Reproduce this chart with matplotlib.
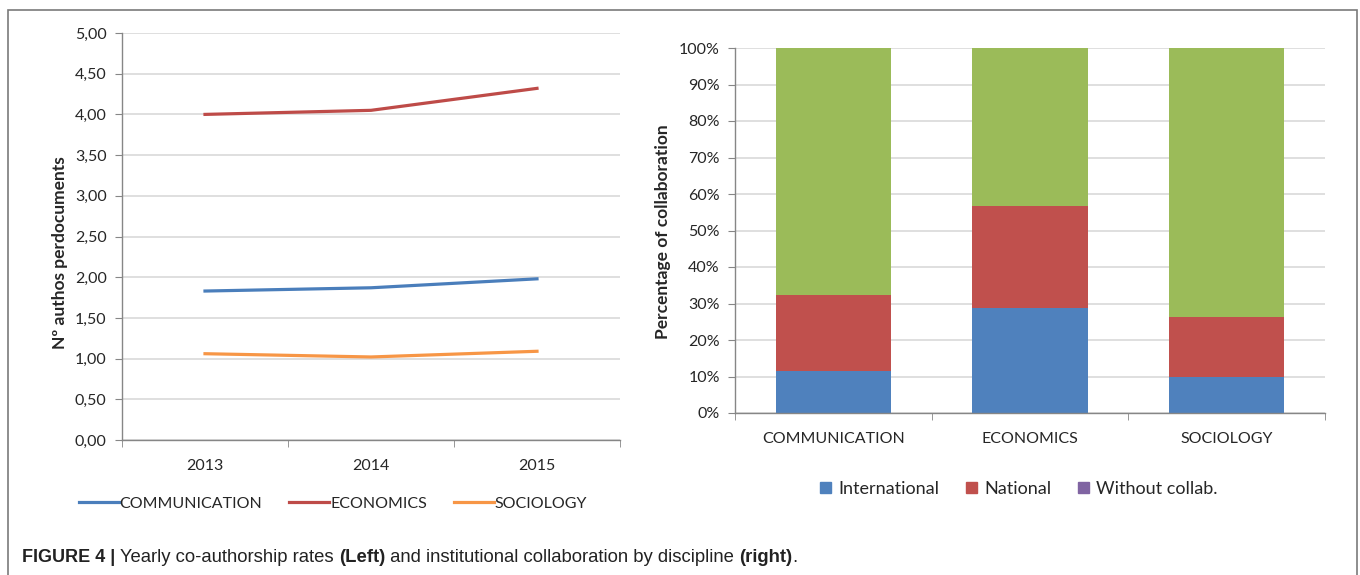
import matplotlib
matplotlib.use('Agg')
from matplotlib import pyplot as plt
from matplotlib.patches import Rectangle, Patch
import numpy as np

# 左: 年ごとの共著率
years = ['2013', '2014', '2015']
communication = [1.83, 1.87, 1.98]
economics = [4.00, 4.05, 4.32]
sociology = [1.06, 1.02, 1.09]
leftTicks = [0.0, 0.5, 1.0, 1.5, 2.0, 2.5, 3.0, 3.5, 4.0, 4.5, 5.0]

# 右: 分野ごとの機関協力
disciplines = ['COMMUNICATION', 'ECONOMICS', 'SOCIOLOGY']
international = [11.5, 28.8, 10.0]
national = [20.8, 27.9, 16.3]
without = [67.7, 43.3, 73.7]
rightTicks = [0, 10, 20, 30, 40, 50, 60, 70, 80, 90, 100]

BLUE = '#4a7ebb'
RED = '#be4b48'
ORANGE = '#f79646'
BAR_BLUE = '#4f81bd'
BAR_RED = '#c0504d'
BAR_GREEN = '#9bbb59'
PURPLE = '#8064a2'
GRID = '#d9d9d9'
AXIS = '#868686'
TXT = '#262626'
FONT = ['Lato', 'DejaVu Sans']

plt.rcParams['font.family'] = FONT

W, H = 1360, 575
fig = plt.figure(figsize=(W / 100, H / 100), dpi=100)

# 外枠
fig.patches.append(Rectangle((8 / W, -0.05), (1357 - 8) / W, 1.05 - 10 / H,
                             transform=fig.transFigure, fill=False,
                             edgecolor='#7a7a7a', linewidth=1.2))


def styleAxis(ax):
    for s in ['top', 'right']:
        ax.spines[s].set_visible(False)
    for s in ['left', 'bottom']:
        ax.spines[s].set_color(AXIS)
        ax.spines[s].set_linewidth(1.0)
    ax.grid(axis='y', color=GRID, linewidth=1.2)
    ax.set_axisbelow(True)
    ax.tick_params(axis='y', length=5, color=AXIS, labelsize=11.5, labelcolor=TXT, pad=6)
    ax.tick_params(axis='x', which='major', length=0, labelsize=11.5, labelcolor=TXT, pad=14)
    ax.tick_params(axis='x', which='minor', length=5, color=AXIS)


# ---- 左のグラフ ----
axL = fig.add_axes([122 / W, 1 - 440 / H, (620 - 122) / W, (440 - 33) / H])
x = np.arange(len(years))
axL.plot(x, communication, color=BLUE, linewidth=2.3, label='COMMUNICATION')
axL.plot(x, economics, color=RED, linewidth=2.3, label='ECONOMICS')
axL.plot(x, sociology, color=ORANGE, linewidth=2.3, label='SOCIOLOGY')
axL.set_xlim(-0.5, len(years) - 0.5)
axL.set_ylim(0, 5)
axL.set_yticks(leftTicks)
axL.set_yticklabels([f'{v:.2f}'.replace('.', ',') for v in leftTicks])
axL.set_xticks(x)
axL.set_xticklabels(years)
axL.set_xticks(np.arange(len(years) + 1) - 0.5, minor=True)
styleAxis(axL)
axL.set_ylabel('Nº authos perdocuments', fontsize=12.5, fontweight='bold', color=TXT)
axL.yaxis.set_label_coords(-0.108, 0.46)
fig.legend(handles=axL.get_lines(), loc='center', ncol=3,
           bbox_to_anchor=(333 / W, 1 - 504 / H), frameon=False,
           fontsize=11.5, handlelength=2.5, handletextpad=0.05, columnspacing=1.7,
           labelcolor=TXT)

# ---- 右のグラフ ----
axR = fig.add_axes([735 / W, 1 - 413 / H, (1325 - 735) / W, (413 - 48) / H])
xb = np.arange(len(disciplines))
bw = 0.585
axR.bar(xb, international, bw, color=BAR_BLUE)
axR.bar(xb, national, bw, bottom=international, color=BAR_RED)
axR.bar(xb, without, bw, bottom=np.array(international) + np.array(national), color=BAR_GREEN)
axR.set_xlim(-0.5, len(disciplines) - 0.5)
axR.set_ylim(0, 100)
axR.set_yticks(rightTicks)
axR.set_yticklabels([f'{v}%' for v in rightTicks])
axR.set_xticks(xb)
axR.set_xticklabels(disciplines)
axR.set_xticks(np.arange(len(disciplines) + 1) - 0.5, minor=True)
styleAxis(axR)
axR.set_ylabel('Percentage of collaboration', fontsize=12.5, fontweight='bold', color=TXT)
axR.yaxis.set_label_coords(-0.108, 0.496)
handles = [Patch(color=BAR_BLUE, label='International'),
           Patch(color=BAR_RED, label='National'),
           Patch(color=PURPLE, label='Without collab.')]
fig.legend(handles=handles, loc='center', ncol=3,
           bbox_to_anchor=(1019 / W, 1 - 489 / H), frameon=False,
           fontsize=13, handlelength=0.6, handleheight=0.6, handletextpad=0.4,
           columnspacing=1.5, labelcolor=TXT)

# ---- キャプション ----
capFont = ['Liberation Sans', 'DejaVu Sans']
parts = [('FIGURE 4 | ', 'bold'), ('Yearly co-authorship rates ', 'normal'),
         ('(Left)', 'bold'), (' and institutional collaboration by discipline ', 'normal'),
         ('(right)', 'bold'), ('.', 'normal')]
prevText = fig.text(22 / W, 1 - 557 / H, parts[0][0], fontsize=13, fontweight=parts[0][1],
                    family=capFont, va='center', color='#222222')
for txt, wt in parts[1:]:
    prevText = plt.annotate(txt, xy=(1, 0.5), xycoords=prevText, va='center', ha='left',
                            fontsize=13.3, fontweight=wt, family=capFont, color='#222222',
                            annotation_clip=False)

fig.savefig('out.png', dpi=100)
